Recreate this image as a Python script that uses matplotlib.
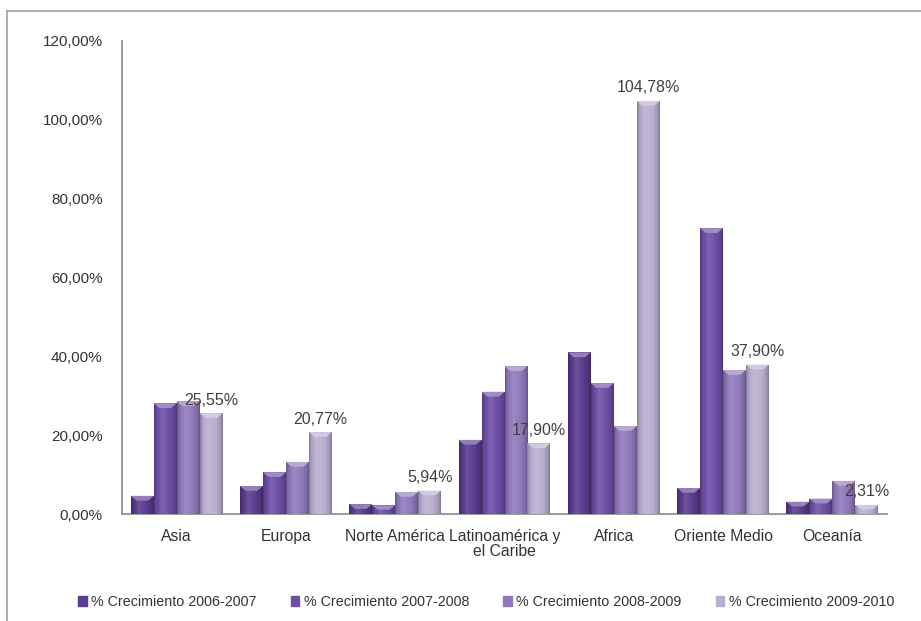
import numpy as np
import matplotlib
matplotlib.use("Agg")
import matplotlib.pyplot as plt
from matplotlib.colors import to_rgb
from matplotlib.patches import Rectangle
from matplotlib.lines import Line2D

categories = ["Asia", "Europa", "Norte América", "Latinoamérica y\nel Caribe",
              "Africa", "Oriente Medio", "Oceanía"]
series_names = ["% Crecimiento 2006-2007", "% Crecimiento 2007-2008",
                "% Crecimiento 2008-2009", "% Crecimiento 2009-2010"]
g2006_2007 = [4.6, 7.1, 2.5, 18.8, 41.0, 6.6, 3.1]
g2007_2008 = [28.1, 10.6, 2.2, 31.0, 33.2, 72.5, 3.9]
g2008_2009 = [28.6, 13.2, 5.6, 37.5, 22.3, 36.5, 8.4]
g2009_2010 = [25.55, 20.77, 5.94, 17.90, 104.78, 37.90, 2.31]
label_texts = ["25,55%", "20,77%", "5,94%", "17,90%", "104,78%", "37,90%", "2,31%"]
yticks = [0, 20, 40, 60, 80, 100, 120]
ytick_labels = ["0,00%", "20,00%", "40,00%", "60,00%", "80,00%", "100,00%", "120,00%"]

colors = ["#5a3b8e", "#6e4ea6", "#9079bb", "#b9aecf"]

plt.rcParams['font.family'] = ['Liberation Sans', 'DejaVu Sans']

fig = plt.figure(figsize=(9.21, 6.21), dpi=100)
W, H = 921, 621
ax = fig.add_axes([122 / W, 1 - 514 / H, (887 - 122) / W, (514 - 41) / H])

all_series = [g2006_2007, g2007_2008, g2008_2009, g2009_2010]
x = np.arange(len(categories))
bw = 0.21
offsets = (np.arange(4) - 1.5) * bw

def shade(c, f):
    r = np.array(to_rgb(c))
    if f >= 1:
        return r + (1 - r) * (f - 1)
    return r * f

bar_containers = []
for i, (vals, c) in enumerate(zip(all_series, colors)):
    bars = ax.bar(x + offsets[i], vals, width=bw, color=c, edgecolor="none",
                  label=series_names[i], zorder=2)
    bar_containers.append(bars)
    prof = np.linspace(0, 1, 40)
    fac = np.interp(prof, [0, 0.08, 0.35, 0.7, 0.92, 1.0],
                    [0.72, 0.9, 1.12, 1.0, 0.85, 0.7])
    img = np.clip(np.array([[shade(c, f) for f in fac]]), 0, 1)
    for p in bars:
        bx, bwid, bh = p.get_x(), p.get_width(), p.get_height()
        im = ax.imshow(img, extent=[bx, bx + bwid, 0, bh], aspect="auto",
                       zorder=3, interpolation="bilinear")
        im.set_clip_path(p)
        cap = min(1.2, bh * 0.5)
        ax.fill([bx, bx + bwid, bx + bwid * 0.75, bx + bwid * 0.25],
                [bh, bh, bh - cap, bh - cap],
                color=shade(c, 1.35), zorder=4, lw=0)

for p, t in zip(bar_containers[3], label_texts):
    ax.annotate(t, (p.get_x() + p.get_width() / 2, p.get_height()),
                xytext=(0, 4), textcoords="offset points", ha="center",
                va="bottom", fontsize=11.5, color="#404040", zorder=6)

ax.set_xlim(-0.5, len(categories) - 0.5)
ax.set_ylim(0, 120)
ax.set_yticks(yticks)
ax.set_yticklabels(ytick_labels)
ax.set_xticks(x)
ax.set_xticklabels(categories, linespacing=0.95)
ax.tick_params(axis="both", length=0, labelcolor="#333333")
ax.tick_params(axis="y", pad=14, labelsize=11)
ax.tick_params(axis="x", pad=11, labelsize=11.3)
for s in ["top", "right"]:
    ax.spines[s].set_visible(False)
for s in ["left", "bottom"]:
    ax.spines[s].set_color("#8a8a8a")
    ax.spines[s].set_linewidth(1.2)

fig.add_artist(Line2D([7 / W, 7 / W], [0, 1 - 11 / H], transform=fig.transFigure,
                      color="#a0a0a0", lw=1.2))
fig.add_artist(Line2D([7 / W, 1], [1 - 11 / H, 1 - 11 / H], transform=fig.transFigure,
                      color="#a0a0a0", lw=1.2))

handles = [Rectangle((0, 0), 1, 1, color=c) for c in colors]
fig.legend(handles, series_names, loc="center", bbox_to_anchor=(486 / W, 1 - 602 / H),
           ncol=4, frameon=False, fontsize=10.3, handlelength=0.6, handleheight=0.7,
           handletextpad=0.3, columnspacing=2.4, labelcolor="#333333")

fig.savefig("out.png", dpi=100)
